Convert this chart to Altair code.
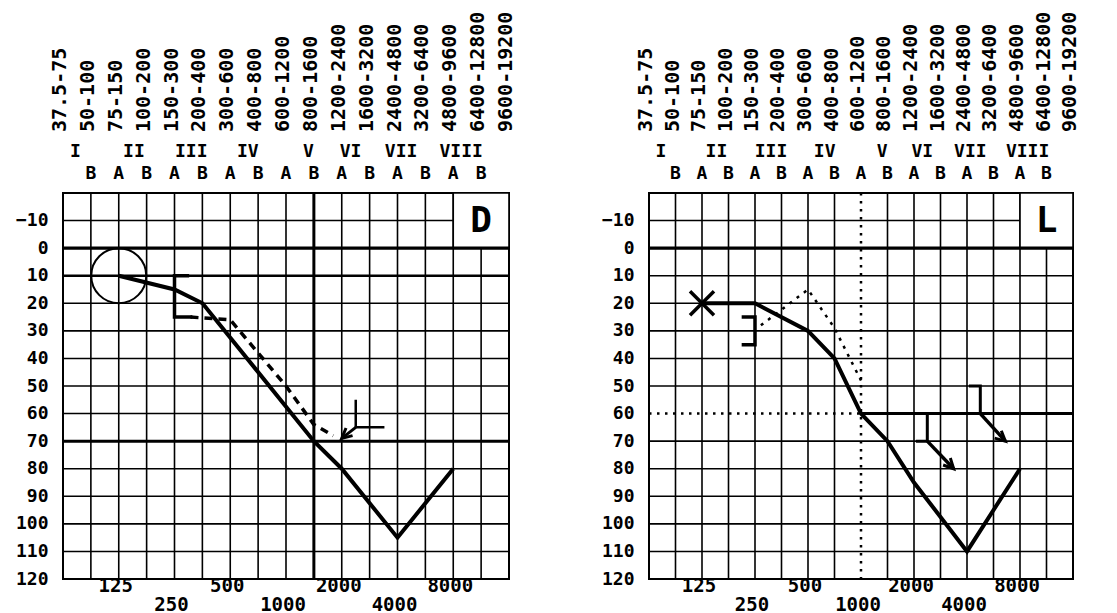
import altair as alt
import pandas as pd

FONT = "DejaVu Sans Mono"
H = 386
W_LEFT = 446
W_RIGHT = 424

# ---------------- shared axis / label data ----------------
grid_freq = [62.5, 88.39, 125, 176.78, 250, 353.55, 500, 707.11, 1000, 1414.21,
             2000, 2828.43, 4000, 5656.85, 8000, 11313.71, 16000]
grid_db = [-20, -10, 0, 10, 20, 30, 40, 50, 60, 70, 80, 90, 100, 110, 120]
db_labels = [-10, 0, 10, 20, 30, 40, 50, 60, 70, 80, 90, 100, 110, 120]
band_labels = ["37.5-75", "50-100", "75-150", "100-200", "150-300", "200-400",
               "300-600", "400-800", "600-1200", "800-1600", "1200-2400",
               "1600-3200", "2400-4800", "3200-6400", "4800-9600",
               "6400-12800", "9600-19200"]
octave_labels = ["I", "II", "III", "IV", "V", "VI", "VII", "VIII"]
octave_freq = [73, 151, 308, 622, 1320, 2230, 4180, 8830]
ab_labels = ["B", "A", "B", "A", "B", "A", "B", "A", "B", "A", "B", "A", "B", "A", "B"]
ab_freq = grid_freq[1:16]
freq_labels = ["125", "250", "500", "1000", "2000", "4000", "8000"]
freq_values = [125, 250, 500, 1000, 2000, 4000, 8000]
freq_row = [0, 1, 0, 1, 0, 1, 0]
box_freq = [8000, 16000]
box_db = [-20, 0]
letter_freq = 11313.71
letter_db = -10

# ---------------- left panel (D) ----------------
d_ac_freq = [125, 250, 354, 1414, 2000, 4000, 8000]
d_ac_db = [10, 15, 20, 70, 80, 105, 80]
d_circle_freq = [125]
d_circle_db = [10]
d_bc_freq = [305, 500, 1000, 1414, 1800]
d_bc_db = [25, 26, 50, 64, 68]
d_bracket_freq = [300, 250, 250, 312]
d_bracket_db = [10, 10, 25, 25]
d_nr_freq = [3400, 2380, 2380]
d_nr_db = [65, 65, 55]
d_arrow_freq = [2380, 2000]
d_arrow_db = [65, 69]
d_heavy_db_major = [0]
d_heavy_db_minor = [10]
d_heavy_db_mask = [70]
d_heavy_freq = [1414.21]

# ---------------- right panel (L) ----------------
l_ac_freq = [125, 250, 500, 707, 1000, 1414, 2000, 4000, 8000]
l_ac_db = [20, 20, 30, 40, 60, 70, 85, 110, 80]
l_x_freq = [125]
l_x_db = [20]
l_bc_freq = [270, 500, 707, 1000]
l_bc_db = [28, 15, 29, 48]
l_bracket_freq = [210, 250, 250, 210]
l_bracket_db = [25, 25, 35, 35]
l_nr1_freq = [2050, 2380, 2380]
l_nr1_db = [70, 70, 60]
l_arrow1_freq = [2380, 3360]
l_arrow1_db = [70, 80]
l_nr2_freq = [4100, 4760, 4760]
l_nr2_db = [50, 50, 60]
l_arrow2_freq = [4760, 6610]
l_arrow2_db = [60, 70]
l_mask_db = 60
l_mask_freq = 1000

# ---------------- helpers ----------------
xs = alt.Scale(type="log", base=2, domain=[62.5, 16000], nice=False)
ys = alt.Scale(domain=[-20, 120], reverse=True, nice=False, zero=False)
yax = alt.Axis(values=db_labels, labelFont=FONT, labelFontSize=18, labelFontWeight="bold",
               labelColor="black", labelPadding=15, ticks=False, domain=False, grid=False,
               title=None, labelOverlap=False, labelFlush=False)


def xenc(f="f"):
    return alt.X(f + ":Q", scale=xs, axis=None)


def yenc(f="db"):
    return alt.Y(f + ":Q", scale=ys, axis=yax)


def path_layer(freqs, dbs, **mark):
    df = pd.DataFrame({"f": freqs, "db": dbs, "seq": list(range(len(freqs)))})
    return alt.Chart(df).mark_line(color="black", **mark).encode(
        x=xenc(), y=yenc(), order=alt.Order("seq:Q"))


def hrule(dbs, **mark):
    return alt.Chart(pd.DataFrame({"db": dbs})).mark_rule(color="black", **mark).encode(y=yenc())


def vrule(freqs, **mark):
    return alt.Chart(pd.DataFrame({"f": freqs})).mark_rule(color="black", **mark).encode(x=xenc())


def hseg(f1, f2, db, **mark):
    df = pd.DataFrame({"f": [f1], "f2": [f2], "db": [db]})
    return alt.Chart(df).mark_rule(color="black", **mark).encode(x=xenc(), x2="f2:Q", y=yenc())


def head(freq, db, angle):
    df = pd.DataFrame({"f": [freq], "db": [db]})
    return alt.Chart(df).mark_point(shape="M-0.5,1L0,0L0.5,1", size=400, filled=False,
                                    strokeWidth=3, color="black", opacity=1,
                                    angle=angle).encode(x=xenc(), y=yenc())


def text_style(size):
    return dict(font=FONT, fontSize=size, fontWeight="bold", color="black")


def grid_layers(vgrid, hgrid):
    return [vrule(vgrid, strokeWidth=1.6), hrule(hgrid, strokeWidth=1.6)]


def label_layers(letter):
    box = alt.Chart(pd.DataFrame({"f": [box_freq[0]], "f2": [box_freq[1]],
                                  "db": [box_db[0]], "db2": [box_db[1]]})).mark_rect(
        fill="white", stroke="black", strokeWidth=1.6).encode(
        x=xenc(), x2="f2:Q", y=yenc(), y2="db2:Q")
    let = alt.Chart(pd.DataFrame({"f": [letter_freq], "db": [letter_db], "t": [letter]})).mark_text(
        align="center", baseline="middle", **text_style(36)).encode(x=xenc(), y=yenc(), text="t:N")
    bands = alt.Chart(pd.DataFrame({"f": grid_freq, "t": band_labels})).mark_text(
        angle=270, align="left", baseline="middle", dy=-3, **text_style(20)).encode(
        x=xenc(), y=alt.value(-61), text="t:N")
    octs = alt.Chart(pd.DataFrame({"f": octave_freq, "t": octave_labels})).mark_text(
        align="center", baseline="middle", **text_style(18)).encode(
        x=xenc(), y=alt.value(-41), text="t:N")
    abl = alt.Chart(pd.DataFrame({"f": ab_freq, "t": ab_labels})).mark_text(
        align="center", baseline="middle", **text_style(18)).encode(
        x=xenc(), y=alt.value(-19), text="t:N")
    fdf = pd.DataFrame({"f": freq_values, "t": freq_labels, "row": freq_row})
    f0 = alt.Chart(fdf).transform_filter("datum.row == 0").mark_text(
        align="center", baseline="middle", dx=-3, **text_style(19)).encode(
        x=xenc(), y=alt.value(H + 7), text="t:N")
    f1 = alt.Chart(fdf).transform_filter("datum.row == 1").mark_text(
        align="center", baseline="middle", dx=-3, **text_style(19)).encode(
        x=xenc(), y=alt.value(H + 26), text="t:N")
    return box, let, [bands, octs, abl, f0, f1]


# ---------------- left panel ----------------
box_d, let_d, texts_d = label_layers("D")
left_layers = grid_layers(grid_freq, grid_db) + [box_d] + [
    hrule(d_heavy_db_major, strokeWidth=3.4),
    hrule(d_heavy_db_minor, strokeWidth=2.4),
    hrule(d_heavy_db_mask, strokeWidth=3.0),
    vrule(d_heavy_freq, strokeWidth=3.0),
    let_d,
    path_layer(d_ac_freq, d_ac_db, strokeWidth=4),
    path_layer(d_bc_freq, d_bc_db, strokeWidth=3.5, strokeDash=[8, 6]),
    path_layer(d_bracket_freq, d_bracket_db, strokeWidth=3.5),
    path_layer(d_nr_freq, d_nr_db, strokeWidth=2.5),
    path_layer(d_arrow_freq, d_arrow_db, strokeWidth=3),
    head(d_arrow_freq[1], d_arrow_db[1], 229),
    alt.Chart(pd.DataFrame({"f": d_circle_freq, "db": d_circle_db})).mark_point(
        shape="circle", size=3025, filled=False, strokeWidth=2, color="black", opacity=1).encode(
        x=xenc(), y=yenc()),
] + texts_d
left = alt.layer(*left_layers).properties(width=W_LEFT, height=H)

# ---------------- right panel ----------------
box_l, let_l, texts_l = label_layers("L")
r_vgrid = [f for f in grid_freq if f != l_mask_freq]
r_hgrid = [d for d in grid_db if d != l_mask_db]
right_layers = grid_layers(r_vgrid, r_hgrid) + [box_l] + [
    hrule([0], strokeWidth=3.4),
    vrule([l_mask_freq], strokeWidth=2.5, strokeDash=[2.5, 5.5]),
    hseg(grid_freq[0], l_mask_freq, l_mask_db, strokeWidth=2.5, strokeDash=[2.5, 5.5]),
    hseg(l_mask_freq, grid_freq[-1], l_mask_db, strokeWidth=3.0),
    let_l,
    path_layer(l_ac_freq, l_ac_db, strokeWidth=4),
    path_layer(l_bc_freq, l_bc_db, strokeWidth=2.5, strokeDash=[3, 6]),
    path_layer(l_bracket_freq, l_bracket_db, strokeWidth=3.5),
    path_layer(l_nr1_freq, l_nr1_db, strokeWidth=3),
    path_layer(l_arrow1_freq, l_arrow1_db, strokeWidth=3.5),
    head(l_arrow1_freq[1], l_arrow1_db[1], 136),
    path_layer(l_nr2_freq, l_nr2_db, strokeWidth=3),
    path_layer(l_arrow2_freq, l_arrow2_db, strokeWidth=3.5),
    head(l_arrow2_freq[1], l_arrow2_db[1], 132),
    alt.Chart(pd.DataFrame({"f": l_x_freq, "db": l_x_db})).mark_point(
        shape="M-1,-1L1,1M-1,1L1,-1", size=576, filled=False, strokeWidth=3.5,
        color="black", opacity=1).encode(x=xenc(), y=yenc()),
] + texts_l
right = alt.layer(*right_layers).properties(width=W_RIGHT, height=H)

chart = alt.hconcat(left, right, spacing=140, bounds="flush").properties(
    padding={"left": 6, "top": 2, "right": 4, "bottom": 4},
    background="white",
).configure_view(stroke="black", strokeWidth=2)

chart.save("out.html", embed_options={"renderer": "svg", "actions": False})
